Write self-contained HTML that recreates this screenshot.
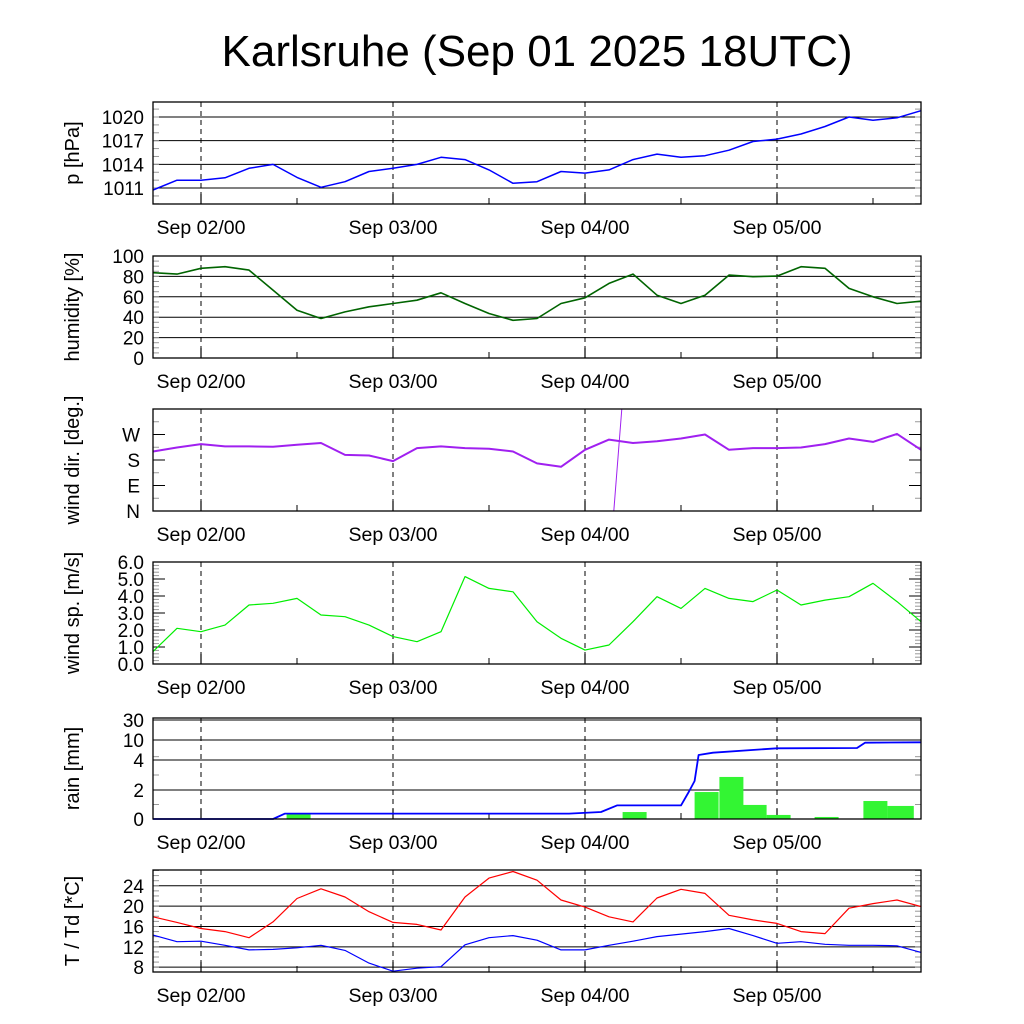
<!DOCTYPE html>
<html><head><meta charset="utf-8"><style>
body{margin:0;background:#fff}
svg{display:block;font-family:"Liberation Sans",sans-serif}
</style></head><body>
<svg id="c" width="1024" height="1024" xmlns="http://www.w3.org/2000/svg">
<rect width="1024" height="1024" fill="#fff"/>
<text x="537" y="66" font-size="44" text-anchor="middle">Karlsruhe (Sep 01 2025 18UTC)</text>
</svg>
<script>
// hours since Sep 01 18UTC, step 3h
const hours = [0,3,6,9,12,15,18,21,24,27,30,33,36,39,42,45,48,51,54,57,60,63,66,69,72,75,78,81,84,87,90,93,96];
const pressure = [1010.75,1012.0,1012.0,1012.3,1013.5,1014.0,1012.35,1011.1,1011.8,1013.1,1013.5,1014.0,1014.9,1014.6,1013.3,1011.6,1011.8,1013.1,1012.9,1013.3,1014.6,1015.3,1014.9,1015.1,1015.8,1016.9,1017.2,1017.85,1018.8,1020.0,1019.6,1019.9,1020.8];
const humidity = [83.6,82.3,87.9,89.5,86.2,66.6,46.9,38.7,45.2,50.2,53.4,56.7,63.9,53.4,43.6,37.0,38.7,53.4,59.0,73.1,82.3,61.6,53.4,61.6,81.3,79.7,80.3,89.5,87.9,68.2,60.0,53.4,55.7];
const windDir = [210,224,236,228,228,227,234,240,198,196,176,222,228,222,220,210,168,156,216,252,240,246,256,270,216,222,222,224,236,256,244,272,216];
const wrapHours = [57.6,58.6];
const wrapDeg = [0,360];
const windSpeed = [0.73,2.10,1.90,2.29,3.47,3.57,3.86,2.88,2.78,2.29,1.61,1.31,1.90,5.14,4.45,4.25,2.49,1.51,0.82,1.12,2.49,3.96,3.27,4.45,3.86,3.67,4.35,3.47,3.76,3.96,4.75,3.67,2.49];
const rainHours = [16.7,58.7,67.7,70.8,73.7,76.7,82.7,88.8,91.8];
const rainAmount = [0.32,0.48,1.86,2.87,0.97,0.28,0.14,1.24,0.9];
const rainWidthH = [3,3,3,3,3,3,3,3,3.3];
const cumHours = [0,15,16.5,52,56,58,66,67,67.7,68.2,70,78,88,89,96];
const cumRain = [0,0,0.37,0.37,0.48,0.94,0.94,1.9,2.6,5.5,6.2,7.5,7.6,9.2,9.3];
const temp = [17.9,16.8,15.6,15.0,13.8,16.9,21.5,23.4,21.8,18.9,16.8,16.4,15.3,21.8,25.5,26.8,25.1,21.2,19.8,17.9,16.9,21.6,23.3,22.5,18.2,17.3,16.6,15.0,14.6,19.6,20.5,21.2,19.9];
const dew = [14.3,13.0,13.1,12.3,11.4,11.5,11.8,12.3,11.3,8.8,7.2,7.8,8.1,12.4,13.8,14.2,13.3,11.4,11.4,12.3,13.1,14.0,14.5,15.0,15.6,14.2,12.7,13.0,12.5,12.3,12.3,12.2,10.9];
const dayLabels = ["Sep 02/00","Sep 03/00","Sep 04/00","Sep 05/00"];
const dayHours = [6,30,54,78];

const svg=document.getElementById('c');
const NS='http://www.w3.org/2000/svg';
const X0=153,X1=921;
const xs=h=>X0+(h/96)*(X1-X0);
function el(t,a,p){const e=document.createElementNS(NS,t);for(const k in a)e.setAttribute(k,a[k]);(p||svg).appendChild(e);return e;}

function panel(o){
  const g=el('g',{});
  
  
  const ys=o.ys;
  (o.grid||[]).forEach(v=>{const l=el('line',{x1:X0,x2:X1,y1:ys(v),y2:ys(v),stroke:'#000','stroke-width':1},g);
    });
  (o.minor||[]).forEach(v=>{const y=ys(v);
    el('line',{x1:X0,x2:X0+6,y1:y,y2:y,stroke:'#999','stroke-width':1},g);
    el('line',{x1:X1-6,x2:X1,y1:y,y2:y,stroke:'#999','stroke-width':1},g);});
  (o.major||[]).forEach(v=>{const y=ys(v);
    el('line',{x1:X0,x2:X0+12,y1:y,y2:y,stroke:'#000','stroke-width':1},g);
    el('line',{x1:X1-12,x2:X1,y1:y,y2:y,stroke:'#000','stroke-width':1},g);});
  dayHours.forEach((h,i)=>{const x=xs(h);
    const l=el('line',{x1:x,x2:x,y1:o.top,y2:o.bot,stroke:'#000','stroke-width':1,'stroke-dasharray':'5,4'},g);
    
    el('line',{x1:x,x2:x,y1:o.bot-10,y2:o.bot,stroke:'#000','stroke-width':1.2},g);
    el('line',{x1:xs(h+12),x2:xs(h+12),y1:o.bot-6,y2:o.bot,stroke:'#000','stroke-width':1},g);
    const t=el('text',{x:x,y:o.bot+30,'font-size':19.5,'text-anchor':'middle'},g);t.textContent=dayLabels[i];
    
  });
  o.labels.forEach(([v,s])=>{const t=el('text',{x:o.lx||144,y:ys(v)+7,'font-size':19,'text-anchor':'end'},g);t.textContent=s;
    });
  const cy=(o.top+o.bot)/2;
  const tt=el('text',{x:0,y:0,'font-size':20,'text-anchor':'middle',transform:`translate(${o.tx||79},${cy}) rotate(-90)`},g);
  tt.textContent=o.title;
  
  o.draw&&o.draw(g,ys);
  const f=el('rect',{x:X0,y:o.top,width:X1-X0,height:o.bot-o.top,fill:'none',stroke:'#000','stroke-width':1.3},g);
  
}
function line(g,hh,vv,ys,color,w,name){
  const pts=hh.map((h,i)=>xs(h).toFixed(1)+','+ys(vv[i]).toFixed(1)).join(' ');
  const p=el('polyline',{points:pts,fill:'none',stroke:color,'stroke-width':w,'stroke-linejoin':'round'},g);
  
}
const lin=(top,bot,vmin,vmax)=>v=>bot-(v-vmin)/(vmax-vmin)*(bot-top);
const rng=(a,b,s)=>{const r=[];for(let v=a;v<=b+1e-9;v+=s)r.push(+v.toFixed(3));return r;};

panel({name:'pressure',top:102,bot:204,ys:lin(102,204,1008.98,1021.9),grid:[1011,1014,1017,1020],
 minor:rng(1009,1021,1),labels:[[1020,'1020'],[1017,'1017'],[1014,'1014'],[1011,'1011']],title:'p [hPa]',
 draw:(g,ys)=>line(g,hours,pressure,ys,'#0000ff',1.5,'pressure-line')});
panel({name:'humidity',top:256,bot:358,ys:lin(256,358,0,100),grid:[20,40,60,80],
 minor:rng(0,100,5),labels:[[100,'100'],[80,'80'],[60,'60'],[40,'40'],[20,'20'],[0,'0']],title:'humidity [%]',
 draw:(g,ys)=>line(g,hours,humidity,ys,'#006400',1.6,'humidity-line')});
panel({name:'wind-direction',top:409,bot:511,ys:lin(409,511,0,360),grid:[],
 minor:rng(45,360,90),major:[90,180,270],labels:[[270,'W'],[180,'S'],[90,'E'],[0,'N']],title:'wind dir. [deg.]',lx:140,
 draw:(g,ys)=>{line(g,hours,windDir,ys,'#a020f0',2,'wind-direction-line');
   line(g,wrapHours,wrapDeg,ys,'#a020f0',1,'wind-direction-wrap');}});
panel({name:'wind-speed',top:562,bot:664,ys:lin(562,664,0,6),grid:[],
 minor:rng(0,6,0.2),major:rng(1,5,1),labels:rng(0,6,1).map(v=>[v,v.toFixed(1)]),title:'wind sp. [m/s]',
 draw:(g,ys)=>line(g,hours,windSpeed,ys,'#00ee00',1.2,'wind-speed-line')});
const rv=[0,2,4,10,30],ry=[819,790,760,740,720];
const rainY=v=>{for(let i=1;i<rv.length;i++){if(v<=rv[i])return ry[i-1]+(v-rv[i-1])/(rv[i]-rv[i-1])*(ry[i]-ry[i-1]);}return ry[ry.length-1];};
panel({name:'rain',top:718,bot:819,ys:rainY,grid:[2,4,10,30],minor:[1,3,5],
 labels:[[30,'30'],[10,'10'],[4,'4'],[2,'2'],[0,'0']],title:'rain [mm]',
 draw:(g,ys)=>{
  rainHours.forEach((h,i)=>{const x=xs(h),w=xs(h+rainWidthH[i])-x,y=ys(rainAmount[i]);
    const r=el('rect',{x:x,y:y,width:w,height:ys(0)-y,fill:'#33f533'},g);
    });
  line(g,cumHours,cumRain,ys,'#0000ff',1.8,'cumulative-rain-line');}});
panel({name:'temperature',top:870,bot:972,ys:lin(870,972,7.05,27.1),grid:[8,12,16,20,24],
 minor:rng(8,27,1),labels:[[24,'24'],[20,'20'],[16,'16'],[12,'12'],[8,'8']],title:'T / Td [*C]',
 draw:(g,ys)=>{line(g,hours,temp,ys,'#ff0000',1.2,'temperature-line');line(g,hours,dew,ys,'#0000ff',1.2,'dewpoint-line');}});
</script>
</body></html>
